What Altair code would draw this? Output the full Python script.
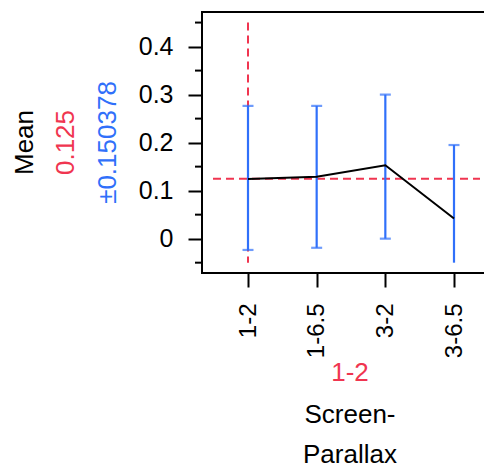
import altair as alt
import pandas as pd

groups = ["1-2", "1-6.5", "3-2", "3-6.5"]
means = [0.124, 0.129, 0.153, 0.042]
upper = [0.2765, 0.2765, 0.300, 0.195]
lower = [-0.0235, -0.019, 0.000, -0.05]
lower_cap = [True, True, True, False]
grand_mean = 0.125
ref_group = "1-2"
ref_y_range = [-0.05, 0.45]
major_ticks = [0, 0.1, 0.2, 0.3, 0.4]
minor_ticks = [-0.05, 0.05, 0.15, 0.25, 0.35, 0.45]
y_domain = [-0.0715, 0.472]

RED = "#F03550"
BLUE = "#3070FA"
FONT = "Liberation Sans"

W, H = 282, 261

df = pd.DataFrame({"group": groups, "mean": means, "upper": upper, "lower": lower})
caps_up = pd.DataFrame({"group": groups, "v": upper})
caps_lo = pd.DataFrame({"group": [g for g, c in zip(groups, lower_cap) if c],
                        "v": [v for v, c in zip(lower, lower_cap) if c]})
minor_df = pd.DataFrame({"v": minor_ticks})
ref_df = pd.DataFrame({"group": [ref_group], "y1": [ref_y_range[1]], "y2": [ref_y_range[0]]})

xs = alt.Scale(type="point", domain=groups, range=[46, 252], padding=0)
ys = alt.Scale(domain=y_domain, nice=False, zero=False)

x_axis = alt.Axis(title=None, labelAngle=270, labelAlign="right", labelBaseline="middle",
                  labelFontSize=24, labelPadding=16, tickSize=14, tickWidth=2,
                  tickColor="black", domain=False, grid=False, labelColor="black",
                  labelFont=FONT)
y_axis = alt.Axis(title=None, values=major_ticks, labelFontSize=25, labelPadding=15,
                  tickSize=14, tickWidth=2, tickColor="black", domain=False, grid=False,
                  labelColor="black", labelFont=FONT, format="~g")


def X(field="group"):
    return alt.X(f"{field}:N", scale=xs, sort=groups, axis=x_axis)


def Y(field):
    return alt.Y(f"{field}:Q", scale=ys, axis=y_axis)


base = alt.Chart(df)
one = pd.DataFrame({"k": [0]})

frame_top = alt.Chart(one).mark_rule(color="black", strokeWidth=2).encode(
    y=alt.value(0), x=alt.value(-1), x2=alt.value(W))
frame_bot = alt.Chart(one).mark_rule(color="black", strokeWidth=2).encode(
    y=alt.value(H), x=alt.value(-1), x2=alt.value(W))
frame_left = alt.Chart(one).mark_rule(color="black", strokeWidth=2).encode(
    x=alt.value(0), y=alt.value(0), y2=alt.value(H))

ref_v = alt.Chart(ref_df).mark_rule(color=RED, strokeWidth=2, strokeDash=[8, 5]).encode(
    x=X(), y=Y("y1"), y2="y2:Q")
ref_h = alt.Chart(one).mark_rule(color=RED, strokeWidth=2, strokeDash=[8, 5]).encode(
    y=alt.Y(datum=grand_mean, scale=ys, axis=y_axis), x=alt.value(11), x2=alt.value(278))
bars = base.mark_rule(color=BLUE, strokeWidth=2.2).encode(x=X(), y=Y("lower"), y2="upper:Q")
cap_u = alt.Chart(caps_up).mark_tick(color=BLUE, orient="horizontal", size=11, thickness=2.2).encode(
    x=X(), y=Y("v"))
cap_l = alt.Chart(caps_lo).mark_tick(color=BLUE, orient="horizontal", size=11, thickness=2.2).encode(
    x=X(), y=Y("v"))
line = base.mark_line(color="black", strokeWidth=2).encode(x=X(), y=Y("mean"))
minor = alt.Chart(minor_df).mark_rule(color="black", strokeWidth=2).encode(
    y=Y("v"), x=alt.value(-7), x2=alt.value(0))


def txt(t, color, x, y, angle=0, size=26):
    return alt.Chart(pd.DataFrame({"t": [t]})).mark_text(
        color=color, font=FONT, fontSize=size, angle=angle, align="center",
        baseline="middle").encode(text="t:N", x=alt.value(x), y=alt.value(y))


t1 = txt("Mean", "black", -177, 130.5, 270)
t2 = txt("0.125", RED, -136, 130.5, 270)
t3 = txt("±0.150378", BLUE, -94, 130.5, 270)
t4 = txt("1-2", RED, 148, 361)
t5 = txt("Screen-", "black", 148, 403)
t6 = txt("Parallax", "black", 148, 443)

chart = alt.layer(frame_top, frame_bot, frame_left, ref_v, ref_h, bars, cap_u, cap_l, line, minor,
                  t1, t2, t3, t4, t5, t6).properties(
    width=W, height=H,
    autosize=alt.AutoSizeParams(type="none"),
    padding={"left": 194, "top": 4, "right": 0, "bottom": 200},
).configure(background="white").configure_view(stroke=None)

chart.save("out.html", embed_options={"renderer": "svg", "actions": False})
